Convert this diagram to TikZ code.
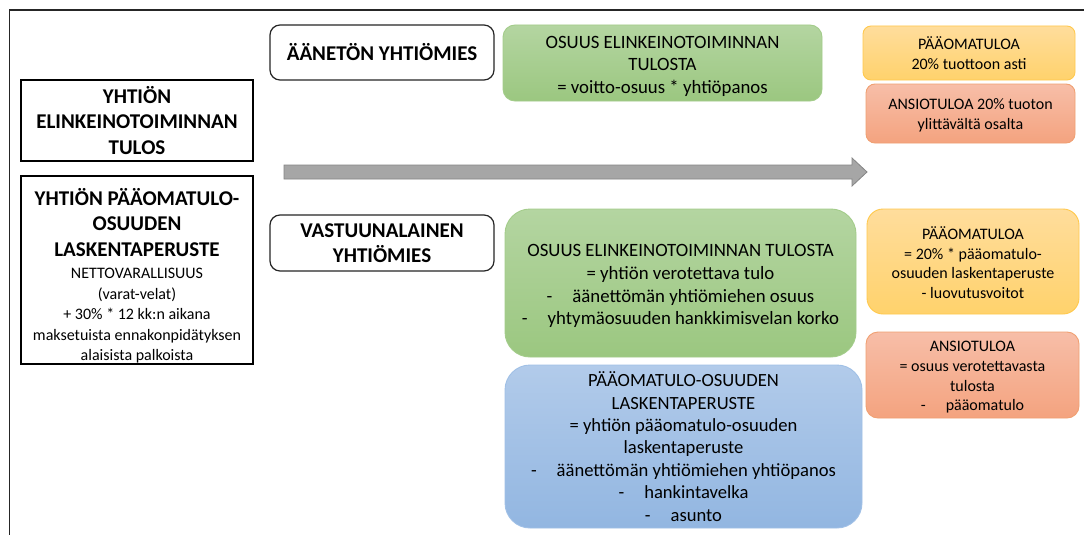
\documentclass[tikz,border=0pt]{standalone}
\usepackage{fontspec}
\setmainfont{Carlito}
\definecolor{grnT}{HTML}{B4D5A1}
\definecolor{grnB}{HTML}{9BC780}
\definecolor{grnD}{HTML}{A3CC8A}
\definecolor{bluT}{HTML}{B2CBEA}
\definecolor{bluB}{HTML}{92B6E1}
\definecolor{bluD}{HTML}{A0C0E6}
\definecolor{yelT}{HTML}{FFDD9C}
\definecolor{yelB}{HTML}{FFD26C}
\definecolor{yelD}{HTML}{FFC94D}
\definecolor{salT}{HTML}{F7BEA8}
\definecolor{salB}{HTML}{F4A37F}
\definecolor{salD}{HTML}{F0A072}
\definecolor{arrF}{HTML}{A6A6A6}
\definecolor{arrD}{HTML}{858585}
\definecolor{frameC}{HTML}{262626}
\tikzset{
  base/.style={inner sep=0pt, outer sep=0pt, align=center, anchor=north west, text=black},
  hdbox/.style={base, draw=black, line width=1.4pt, fill=white, font=\bfseries\fontsize{21}{25.3}\selectfont},
  rndbox/.style={base, draw=black!85, line width=1.2pt, fill=white, rounded corners=10pt, font=\bfseries\fontsize{21}{24.6}\selectfont},
  greenbox/.style={base, draw=grnD, line width=0.9pt, top color=grnT, bottom color=grnB, font=\fontsize{18.8}{22.8}\selectfont},
  bluebox/.style={base, draw=bluD, line width=0.9pt, top color=bluT, bottom color=bluB, font=\fontsize{18.6}{22.4}\selectfont},
  yelbox/.style={base, draw=yelD, line width=0.9pt, top color=yelT, bottom color=yelB, font=\fontsize{16}{19.7}\selectfont},
  salbox/.style={base, draw=salD, line width=0.9pt, top color=salT, bottom color=salB, font=\fontsize{16}{19.7}\selectfont},
}
\newcommand{\dsh}{-\hspace{20pt}}
\newcommand{\hdln}[1]{{\bfseries\fontsize{21}{25}\selectfont #1}}
\begin{document}
\begin{tikzpicture}[x=1pt,y=-1pt]
\useasboundingbox (0,0) rectangle (1084,535);
\fill[white] (0,0) rectangle (1084,535);
% frame
\draw[frameC, line width=1.8pt] (9.5,536) -- (9.5,10) -- (1085,10);
% left column
\node[hdbox, minimum width=232pt, minimum height=81pt] (t1) at (21,80)
  {YHTIÖN\\ELINKEINOTOIMINNAN\\TULOS};
\node[hdbox, minimum width=232pt, minimum height=188pt, font=\fontsize{16}{20.5}\selectfont] (t2) at (21,176)
  {\rule{0pt}{29pt}\hdln{YHTIÖN PÄÄOMATULO-}\\[4.5pt]
   \hdln{OSUUDEN}\\[5pt]
   \hdln{LASKENTAPERUSTE}\\[2pt]
   NETTOVARALLISUUS\\(varat-velat)\\+ 30\% * 12 kk:n aikana\\maksetuista ennakonpidätyksen\\alaisista palkoista};
% partner boxes
\node[rndbox, minimum width=224pt, minimum height=55pt] (a1) at (270,25) {ÄÄNETÖN YHTIÖMIES};
\node[rndbox, minimum width=224pt, minimum height=56pt] (v1) at (270,215) {VASTUUNALAINEN\\YHTIÖMIES};
% arrow
\draw[arrD, fill=arrF, line width=0.8pt] (284,165) -- (852,165) -- (852,158) -- (867,172) -- (852,186) -- (852,179) -- (284,179) -- cycle;
% green boxes
\node[greenbox, rounded corners=12pt, minimum width=319pt, minimum height=76pt] (g1) at (503,25)
  {\rule{0pt}{19pt}OSUUS ELINKEINOTOIMINNAN\\TULOSTA\\= voitto-osuus * yhtiöpanos};
\node[greenbox, rounded corners=25pt, minimum width=351pt, minimum height=148pt] (g2) at (505,209)
  {\rule{0pt}{18.5pt}OSUUS ELINKEINOTOIMINNAN TULOSTA\\= yhtiön verotettava tulo\\\dsh äänettömän yhtiömiehen osuus\\\dsh yhtymäosuuden hankkimisvelan korko};
% blue box
\node[bluebox, rounded corners=25pt, minimum width=357pt, minimum height=163pt] (b1) at (505,365)
  {PÄÄOMATULO-OSUUDEN\\LASKENTAPERUSTE\\= yhtiön pääomatulo-osuuden\\laskentaperuste\\\dsh äänettömän yhtiömiehen yhtiöpanos\\\dsh hankintavelka\\\dsh asunto};
% right column
\node[yelbox, rounded corners=8pt, minimum width=212pt, minimum height=54pt] (y1) at (863,26)
  {PÄÄOMATULOA\\20\% tuottoon asti};
\node[salbox, rounded corners=9pt, minimum width=209pt, minimum height=59pt] (s1) at (866,84)
  {\rule{0pt}{15pt}ANSIOTULOA 20\% tuoton\\ylittävältä osalta};
\node[yelbox, rounded corners=16pt, minimum width=212pt, minimum height=105pt] (y2) at (867,209)
  {\rule{0pt}{15pt}PÄÄOMATULOA\\= 20\% * pääomatulo-\\osuuden laskentaperuste\\- luovutusvoitot};
\node[salbox, rounded corners=12pt, minimum width=213pt, minimum height=86pt] (s2) at (866,332)
  {\rule{0pt}{15pt}ANSIOTULOA\\= osuus verotettavasta\\tulosta\\\dsh pääomatulo};
\end{tikzpicture}
\end{document}
